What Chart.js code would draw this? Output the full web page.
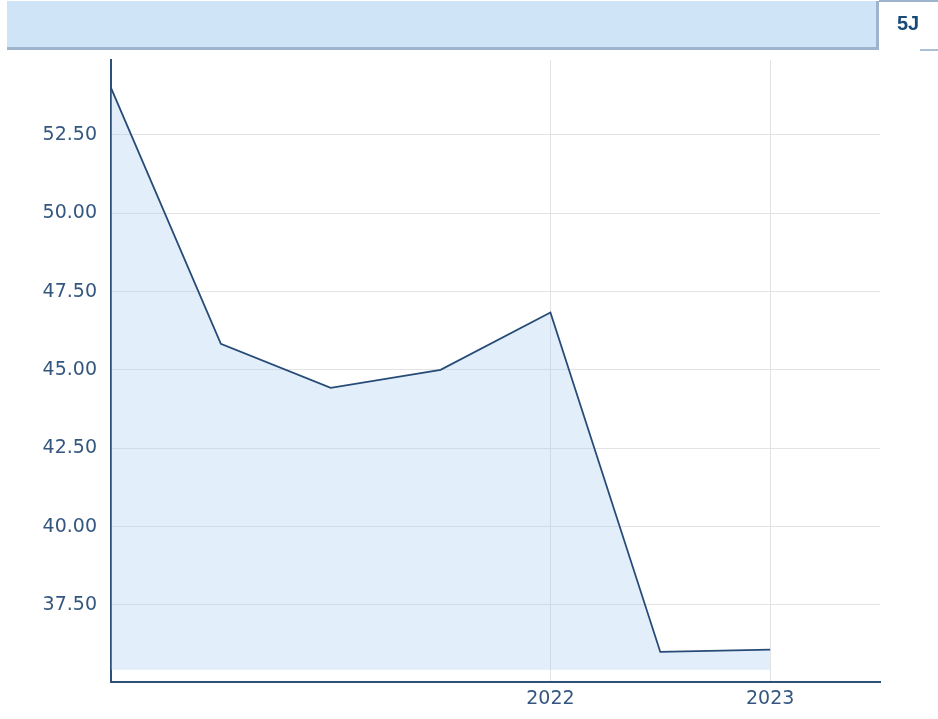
<!DOCTYPE html>
<html>
<head>
<meta charset="utf-8">
<script src="https://cdn.jsdelivr.net/npm/chart.js@4.4.1/dist/chart.umd.min.js"></script>
<style>
  html, body { margin: 0; padding: 0; background: #fff; }
  #wrap { position: relative; width: 938px; height: 719px; overflow: hidden; }
  #myChart { position: absolute; left: 0; top: 0; }
  .bar { position: absolute; left: 7px; top: 1px; width: 869px; height: 46px;
         background: #cfe4f7; border-right: 3px solid #9db4cc; border-bottom: 3px solid #9db4cc; }
  .tab { position: absolute; left: 879px; top: 0; width: 59px; height: 46px; border-top: 2px solid #9db4cc; }
  .tab span { position: absolute; left: 18px; top: 10px; font: bold 20px 'Liberation Sans', Arial, sans-serif; color: #174a79; }
  .tabline { position: absolute; left: 920px; top: 49px; width: 18px; height: 2px; background: #a9c0d8; }
</style>
</head>
<body>
<div id="wrap">
  <canvas id="myChart" width="938" height="719"></canvas>
  <div class="bar"></div>
  <div class="tab"><span>5J</span></div>
  <div class="tabline"></div>
</div>
<script>
// categories: half-year steps, only 2022 and 2023 are labelled
var labels = ['', '', '', '', '2022', '', '2023', ''];
var values = [54.0, 45.83, 44.43, 45.0, 46.83, 36.0, 36.07];
var yTicks = [37.5, 40, 42.5, 45, 47.5, 50, 52.5];
var yMin = 35.04;
var yMax = 54.89;
var fillBase = 35.43;

var ctx = document.getElementById('myChart').getContext('2d');
var myChart = new Chart(ctx, {
  type: 'line',
  data: {
    labels: labels,
    datasets: [{
      data: values,
      borderColor: '#274b77',
      borderWidth: 1.8,
      backgroundColor: 'rgba(166,204,238,0.33)',
      fill: { value: fillBase },
      pointRadius: 0,
      tension: 0
    }]
  },
  options: {
    responsive: false,
    animation: false,
    layout: { padding: { left: 0, top: 60, right: 58, bottom: 0 } },
    plugins: { legend: { display: false }, tooltip: { enabled: false } },
    scales: {
      x: {
        offset: false,
        afterFit: function (s) { s.height = 37; },
        grid: {
          drawTicks: false,
          color: function (c) { return labels[c.index] ? '#e2e2e2' : 'rgba(0,0,0,0)'; }
        },
        border: { color: '#2d5078', width: 2 },
        ticks: {
          autoSkip: false,
          maxRotation: 0,
          padding: 6,
          color: '#34567f',
          font: { family: 'DejaVu Sans', size: 19 }
        }
      },
      y: {
        min: yMin,
        max: yMax,
        afterFit: function (s) { s.width = 111; },
        afterBuildTicks: function (s) {
          s.ticks = yTicks.map(function (v) { return { value: v }; });
        },
        grid: { drawTicks: false, color: '#e3e3e3' },
        border: { color: '#2d5078', width: 2 },
        ticks: {
          padding: 14,
          color: '#34567f',
          font: { family: 'DejaVu Sans', size: 19 },
          callback: function (v) { return v.toFixed(2); }
        }
      }
    }
  }
});
</script>
</body>
</html>
